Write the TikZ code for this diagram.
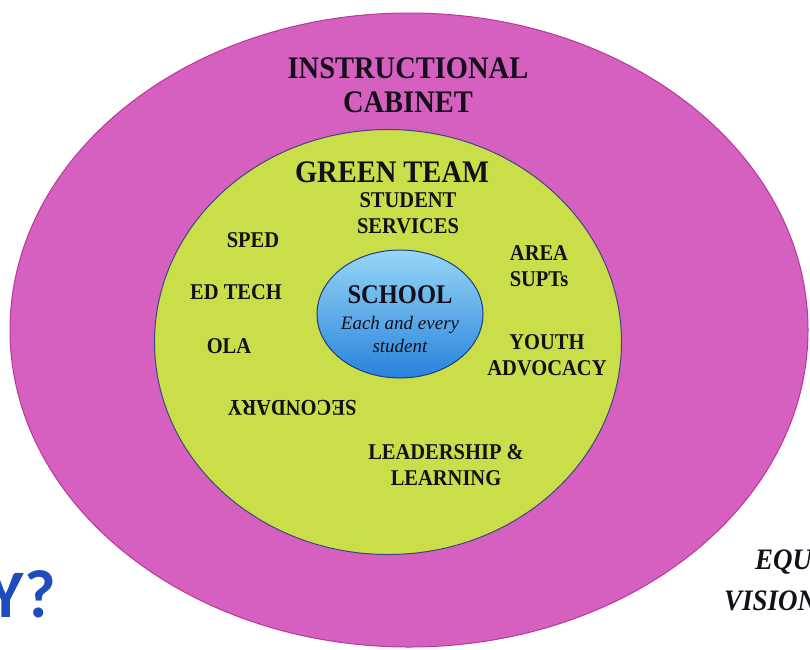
\documentclass[tikz,border=0pt]{standalone}
\usepackage{fontspec}
\setmainfont{Liberation Serif}
\newfontfamily\yfont{Carlito}
\usetikzlibrary{shapes.geometric}
\definecolor{outermag}{RGB}{214,96,192}
\definecolor{outeredge}{RGB}{185,55,150}
\definecolor{greenfill}{RGB}{201,222,72}
\definecolor{greenedge}{RGB}{60,70,130}
\definecolor{bluetop}{RGB}{150,215,245}
\definecolor{bluebot}{RGB}{40,130,220}
\definecolor{blueedge}{RGB}{30,60,130}
\definecolor{ycol}{RGB}{30,75,190}
\definecolor{txt}{RGB}{20,15,25}
\begin{document}
\begin{tikzpicture}[x=1pt,y=-1pt,
  tall/.style={yscale=1.1, transform shape, text=txt, align=center, inner sep=0pt},
  lbl/.style={tall, font=\bfseries\fontsize{20.5}{24}\selectfont},
  big/.style={tall, font=\bfseries\fontsize{28.5}{31}\selectfont}]
\useasboundingbox (0,0) rectangle (810,649);
\clip (0,0) rectangle (810,649);
\fill[white] (0,0) rectangle (810,649);
% outer ellipse
\node[ellipse, draw=outeredge, fill=outermag, line width=1pt, minimum width=798, minimum height=634, inner sep=0pt] (outer) at (409,330) {};
% green ellipse
\node[ellipse, draw=greenedge, fill=greenfill, line width=1pt, minimum width=467, minimum height=425, inner sep=0pt] (green) at (388,342) {};
% blue ellipse
\node[ellipse, draw=blueedge, top color=bluetop, bottom color=bluebot, line width=1pt, minimum width=166, minimum height=128, inner sep=0pt] (school) at (400,314) {};
% texts
\node[big] (cab) at (408,85) {INSTRUCTIONAL\\CABINET};
\node[tall, font=\bfseries\fontsize{28.5}{32}\selectfont] (gt) at (392,172) {GREEN TEAM};
\node[lbl] (ss) at (408,213) {STUDENT\\SERVICES};
\node[lbl] (sped) at (253,240) {SPED};
\node[lbl] (edtech) at (236,292) {ED TECH};
\node[lbl] (ola) at (229,346) {OLA};
\node[lbl] (area) at (539,266) {AREA\\SUPTs};
\node[lbl] (youth) at (547,355) {YOUTH\\ADVOCACY};
\node[lbl, rotate=180] (sec) at (292,408) {SECONDARY};
\node[lbl] (ll) at (446,465) {LEADERSHIP \&\\LEARNING};
\node[tall, font=\bfseries\fontsize{24.5}{28}\selectfont] (sch) at (400,295) {SCHOOL};
\node[font=\itshape\fontsize{19}{23}\selectfont, text=txt, align=center, inner sep=0pt] (each) at (400,335) {Each and every\\student};
% outside texts
\node[font=\yfont\bfseries\fontsize{68}{72}\selectfont, text=ycol, anchor=east, inner sep=0pt] (why) at (56,594) {Y?};
\node[tall, font=\bfseries\itshape\fontsize{27}{32}\selectfont, anchor=west, align=left] (equ) at (755,562) {EQU};
\node[tall, font=\bfseries\itshape\fontsize{27}{32}\selectfont, anchor=west, align=left] (vis) at (724,601) {VISION};
\end{tikzpicture}
\end{document}
